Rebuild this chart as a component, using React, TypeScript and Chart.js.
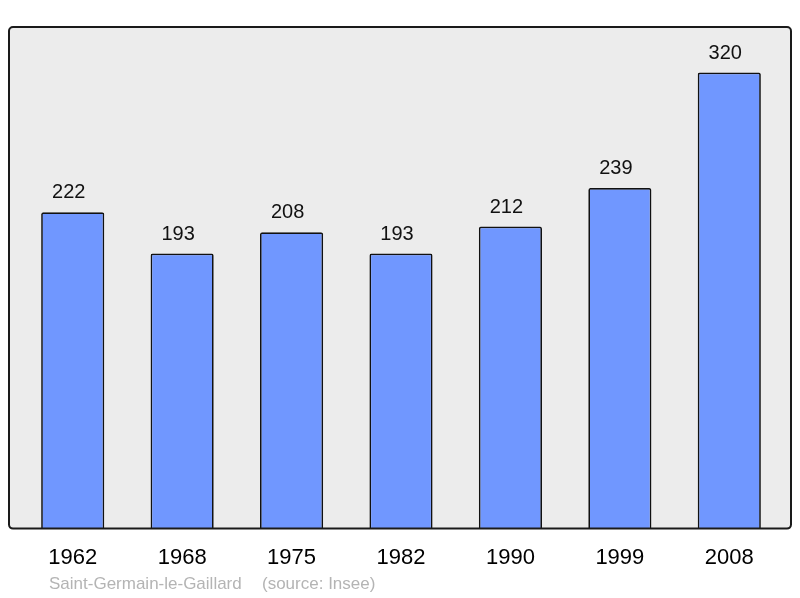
import React, { useEffect, useRef } from "react";
import { Chart, registerables } from "chart.js";

Chart.register(...registerables);

const years = ["1962", "1968", "1975", "1982", "1990", "1999", "2008"];
const population = [222, 193, 208, 193, 212, 239, 320];
const footerName = "Saint-Germain-le-Gaillard";
const footerSource = "(source: Insee)";

const FONT = "'Liberation Sans', Arial, sans-serif";

const boxPlugin = {
  id: "boxPlugin",
  beforeDatasetsDraw(chart: any) {
    const { ctx, chartArea } = chart;
    const l = chartArea.left - 9;
    const r = chartArea.right + 7;
    const t = chartArea.top;
    const b = chartArea.bottom;
    ctx.save();
    ctx.fillStyle = "#ececec";
    ctx.beginPath();
    ctx.roundRect(l, t, r - l, b - t, 4);
    ctx.fill();
    ctx.restore();
  },
  afterDatasetsDraw(chart: any) {
    const { ctx, chartArea } = chart;
    const l = chartArea.left - 9;
    const r = chartArea.right + 7;
    const t = chartArea.top;
    const b = chartArea.bottom;
    ctx.save();
    ctx.strokeStyle = "#1a1a1a";
    ctx.lineWidth = 2;
    ctx.beginPath();
    ctx.roundRect(l, t, r - l, b - t, 4);
    ctx.stroke();

    // value labels
    const meta = chart.getDatasetMeta(0);
    ctx.fillStyle = "#111";
    ctx.font = `20px ${FONT}`;
    ctx.textAlign = "center";
    ctx.textBaseline = "alphabetic";
    meta.data.forEach((el: any, i: number) => {
      ctx.fillText(String(population[i]), el.x - 4, el.y - 14);
    });

    // footer
    ctx.fillStyle = "#b4b4b4";
    ctx.font = `17px ${FONT}`;
    ctx.textAlign = "left";
    ctx.fillText(footerName, 49, 589);
    ctx.fillText(footerSource, 262, 589);
    ctx.restore();
  },
};

export default function App() {
  const ref = useRef<HTMLCanvasElement>(null);
  useEffect(() => {
    document.body.style.margin = "0";
    const chart = new Chart(ref.current!, {
      type: "bar",
      data: {
        labels: years,
        datasets: [
          {
            data: population,
            backgroundColor: "rgb(112,151,255)",
            borderColor: "#111",
            borderWidth: 1.7,
            borderRadius: 2,
            borderSkipped: "bottom",
            barPercentage: 0.577,
            categoryPercentage: 1,
          },
        ],
      },
      options: {
        responsive: false,
        animation: false,
        layout: { padding: { left: 18, right: 16, top: 27, bottom: 19 } },
        plugins: { legend: { display: false }, tooltip: { enabled: false } },
        scales: {
          x: {
            grid: { display: false },
            border: { display: false },
            ticks: {
              color: "#000",
              font: { family: FONT, size: 22 },
              padding: 8,
              maxRotation: 0,
            },
          },
          y: { display: false, min: 0, max: 352 },
        },
      },
      plugins: [boxPlugin],
    });
    return () => chart.destroy();
  }, []);
  return <canvas ref={ref} width={800} height={598} style={{ display: "block" }} />;
}
